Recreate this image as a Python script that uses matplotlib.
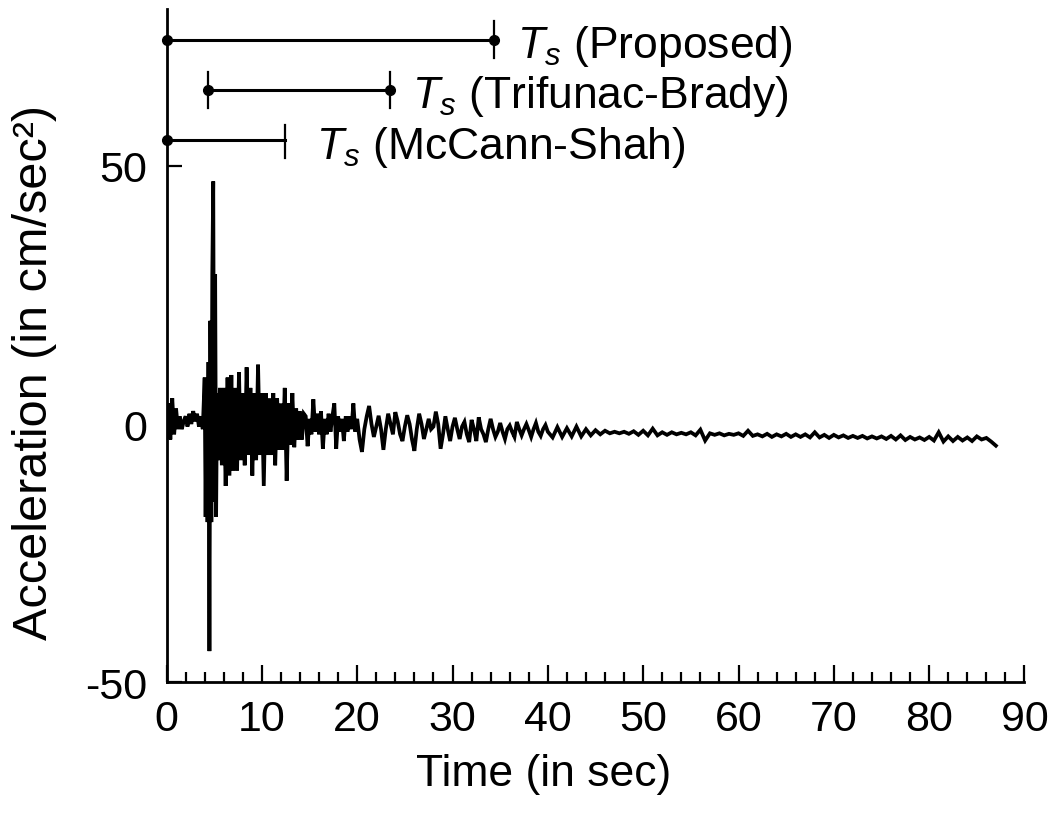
import numpy as np
import matplotlib
matplotlib.use("Agg")
import matplotlib.pyplot as plt

# Fonts: Helvetica-like text, italic T_s through mathtext
plt.rcParams['font.family'] = ['Liberation Sans', 'DejaVu Sans']
plt.rcParams['mathtext.fontset'] = 'custom'
plt.rcParams['mathtext.rm'] = 'Liberation Sans'
plt.rcParams['mathtext.it'] = 'Liberation Sans:italic'

# Accelerogram, stored in pieces with their own sampling step (sec)
# pre-event noise, 0 - 3.8 s
pre_t0, pre_dt = 0.0, 0.2
pre_acc = [0, 4, -3, 5, -2, 3, -1, 1.5, -1, 0.5, 1.5, -0.5, 2, 0, 2.5, 0.5,
           2, -0.5, 1.5, -1]

# main pulse, 4.0 - 5.3 s
pulse_t0, pulse_dt = 4.0, 0.1
pulse_acc = [9, -18, 8, -19, 12, -44, 20, -19, 29, 47, -15, 29, -18, 6]

# strong shaking, 5.4 - 20.0 s
strong_t0, strong_dt = 5.4, 0.2
strong_acc = [-7, 7, -8, 7, -12, 9, -10, 9.5, -9, 7,
              -9, 10, -7, 6, -8, 11, -6, 7, -10, 6,
              -7, 11.5, -6, 6, -12, 6, -6, 5, -6, 6,
              -8, 5, -5, 4, -5, 7, -11, 4, -4, 6,
              -4.5, 3, -3, 2.5, -3, 2, 1.5, -4.3, 1, -2,
              4.8, -1.5, 2, -2, 2.5, -4.8, 1, -2, 2, -1.5,
              1.5, 4, -4.8, 1.5, -1.5, 1, -3.3, 1.5, -1.5, 1.5,
              -1, 4, -1.5, 1]

# coda, 20.25 - 40.0 s
coda_t0, coda_dt = 20.25, 0.25
coda_acc = [-3, -5.4, -1, 1.5, 3.5, 0, -2.5, -0.5, 1.6, -1,
            -5, -1, 2, 0, -2, 2.3, 0.5, -2, -3.3, -0.5,
            1.7, 0, -3, -5.2, -1, 2, 0, -2.9, -1, 1,
            -1, -0.5, 2.4, 0, -4.8, -2, 1.5, -1, -3.3, -0.5,
            1.2, -1, -2.9, -0.5, 0.4, -2, -3.5, 0.8, -1, -3.3,
            1.3, -1, -2, -3.5, -1, 1, -1, -2.5, -1.5, 0.2,
            -1.5, -2.9, -1, -0.3, -1.5, -2.5, 0.4, -1, -2.2, -1,
            0, -1.2, -2.5, -1, 0.2, -1.5, -2.3, -1, -0.2, -1.5]

# tail, 40.5 - 87.0 s
tail_t0, tail_dt = 40.5, 0.5
tail_acc = [-2.6, -0.6, -2.5, -0.8, -2.4, -0.5, -2.4, -1.0, -2.2, -1.2,
            -2.0, -1.3, -1.8, -1.5, -1.8, -1.5, -1.9, -1.4, -2.1, -1.3,
            -2.2, -0.9, -2.2, -1.6, -2.1, -1.6, -2.0, -1.7, -2.0, -1.6,
            -2.2, -1.1, -3.2, -1.8, -2.1, -1.8, -2.2, -1.9, -2.1, -1.8,
            -2.3, -1.3, -2.3, -2.0, -2.4, -1.9, -2.5, -2.0, -2.4, -1.9,
            -2.5, -2.0, -2.5, -2.0, -2.6, -1.6, -2.6, -2.1, -2.7, -2.1,
            -2.6, -2.2, -2.7, -2.3, -2.7, -2.3, -2.8, -2.4, -2.8, -2.4,
            -2.9, -2.3, -3.0, -2.2, -3.1, -2.5, -3.0, -2.6, -3.1, -2.5,
            -3.2, -1.6, -3.4, -2.4, -3.3, -2.5, -3.2, -2.6, -3.3, -2.4,
            -3.0, -2.7, -3.4, -4.2]

# strong-motion duration estimates: (start, end, level) in sec / cm/sec^2
dur_labels = ["$T_s$ (Proposed)", "$T_s$ (Trifunac-Brady)", "$T_s$ (McCann-Shah)"]
dur_start = [0.0, 4.4, 0.0]
dur_end = [34.4, 23.4, 12.4]
dur_level = [74.5, 64.8, 55.0]

x_ticks = [0, 10, 20, 30, 40, 50, 60, 70, 80, 90]
y_ticks = [-50, 0, 50]


def build_series():
    """Join the sampled pieces into one time / acceleration pair"""
    pieces = [(pre_t0, pre_dt, pre_acc), (pulse_t0, pulse_dt, pulse_acc),
              (strong_t0, strong_dt, strong_acc), (coda_t0, coda_dt, coda_acc),
              (tail_t0, tail_dt, tail_acc)]
    t, a = [], []
    for t0, dt, vals in pieces:
        t.extend(t0 + dt * np.arange(len(vals)))
        a.extend(vals)
    return np.array(t), np.array(a)


time, acc = build_series()

fig = plt.figure(figsize=(10.54, 8.2), dpi=100)
ax = fig.add_axes([0.158, 0.167, 0.814, 0.8207])

ax.plot(time, acc, color='black', linewidth=2.7, solid_joinstyle='miter')

# duration bars: left end dot, right end dot + vertical stop
label_gap = [2.4, 2.3, 3.3]  # sec between bar end and its label
for i, label in enumerate(dur_labels):
    y = dur_level[i]
    ax.plot([dur_start[i], dur_end[i]], [y, y], color='black', lw=2.2, clip_on=False)
    if i == 2:
        ax.plot([dur_start[i]], [y], 'o', color='black', ms=7, clip_on=False)
        ax.plot([dur_end[i], dur_end[i]], [y - 3.5, y + 3.0], color='black', lw=1.6)
    else:
        ax.plot([dur_start[i], dur_end[i]], [y, y], 'o', color='black', ms=7, clip_on=False)
        ax.plot([dur_end[i], dur_end[i]], [y - 3.5, y + 3.5], color='black', lw=1.6)
        if dur_start[i] > 0:
            ax.plot([dur_start[i], dur_start[i]], [y - 3.5, y + 3.5], color='black', lw=1.6)
    ax.text(dur_end[i] + label_gap[i], y - 1.2, label, fontsize=32, va='center', ha='left')

ax.set_xlim(0, 90)
ax.set_ylim(-50, 80.4)

ax.spines['top'].set_visible(False)
ax.spines['right'].set_visible(False)
ax.spines['left'].set_linewidth(2.0)
ax.spines['bottom'].set_linewidth(2.0)

ax.set_xticks(x_ticks)
ax.set_xticks(np.arange(0, 91, 2), minor=True)
ax.set_yticks(y_ticks)
ax.set_xticklabels([str(v) for v in x_ticks])
ax.set_yticklabels([str(v) for v in y_ticks])
ax.tick_params(axis='x', which='major', direction='in', length=12, width=1.6,
               labelsize=31, pad=12)
ax.tick_params(axis='x', which='minor', direction='in', length=7, width=1.6)
ax.tick_params(axis='y', which='major', direction='in', length=11, width=1.6,
               labelsize=31, pad=14)

ax.set_xlabel("Time (in sec)", fontsize=32)
ax.xaxis.set_label_coords(0.44, -0.105)
ax.set_ylabel("Acceleration (in cm/sec\u00b2)", fontsize=35)
ax.yaxis.set_label_coords(-0.128, 0.462)

fig.savefig("out.png", dpi=100)
